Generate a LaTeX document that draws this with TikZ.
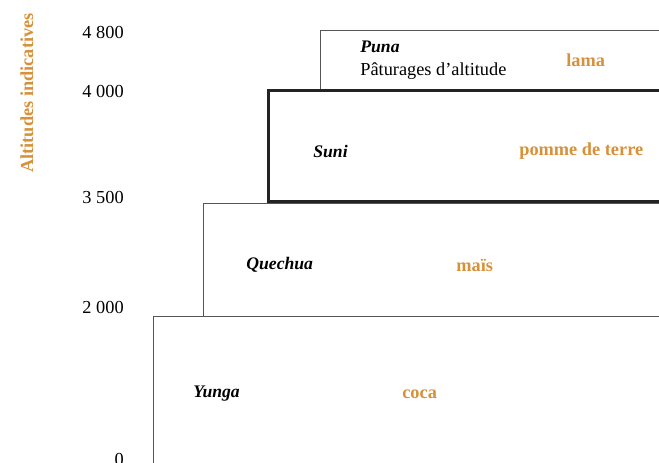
\documentclass[tikz,border=0pt]{standalone}
\usepackage{fontspec}
\setmainfont{Liberation Serif}
\usepackage{xcolor}
\usepackage{tikz}

\definecolor{ocre}{RGB}{214,145,58}
\definecolor{trait}{RGB}{85,85,85}
\definecolor{fort}{RGB}{35,35,35}

\tikzset{
  etage/.style={draw=trait, line width=0.6pt},
  etagefort/.style={draw=fort, line width=1.8pt},
  zone/.style={font=\fontsize{10.6}{13}\selectfont\bfseries\itshape, anchor=west, inner sep=0pt},
  culture/.style={font=\fontsize{11}{13}\selectfont\bfseries, text=ocre, anchor=west, inner sep=0pt},
  altitude/.style={font=\fontsize{11}{13}\selectfont, anchor=east, inner sep=0pt}
}

\begin{document}
\begin{tikzpicture}[x=0.6pt, y=-0.6pt]
\clip (0,0) rectangle (659,462);

% Axis: indicative altitudes
\node[font=\fontsize{11}{13}\selectfont\bfseries, text=ocre, rotate=90, inner sep=0pt] (titre) at (27,93) {Altitudes indicatives};
\node[altitude] (h4800) at (124,32) {4\hspace{0.25em}800};
\node[altitude] (h4000) at (124,91) {4\hspace{0.25em}000};
\node[altitude] (h3500) at (124,197) {3\hspace{0.25em}500};
\node[altitude] (h2000) at (124,307) {2\hspace{0.25em}000};
\node[altitude] (h0) at (124,459) {0};

% Yunga
\draw[etage] (153,470) -- (153,316) -- (670,316);
\node[zone] (yunga) at (193,394) {Yunga};
\node[culture] (coca) at (402,394) {coca};

% Quechua
\draw[etage] (203,316) -- (203,203) -- (670,203);
\node[zone] (quechua) at (246,265) {Quechua};
\node[culture] (mais) at (456,265) {maïs};

% Puna
\draw[etage] (320,90) -- (320,30) -- (670,30);
\node[zone] (puna) at (360,47) {Puna};
\node[font=\fontsize{11}{13}\selectfont, anchor=west, inner sep=0pt] (paturages) at (360,71) {Pâturages d’altitude};
\node[culture] (lama) at (566,60) {lama};

% Suni (thick frame)
\draw[etagefort] (670,90) -- (268,90) -- (268,201) -- (670,201);
\node[zone] (suni) at (313,151) {Suni};
\node[culture] (pomme) at (519,151) {pomme de terre};
\end{tikzpicture}
\end{document}
